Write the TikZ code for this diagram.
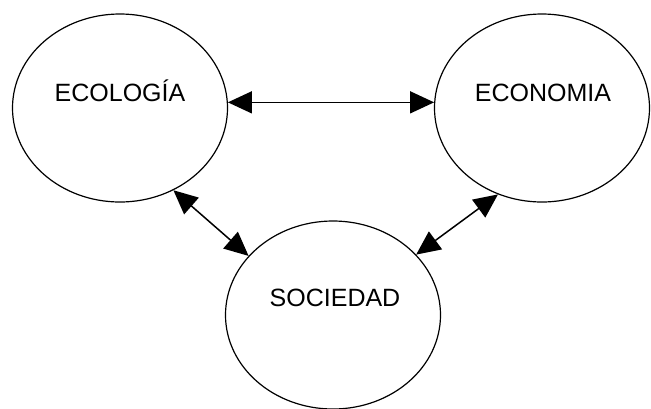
\documentclass[tikz,border=0pt]{standalone}
\usepackage{fontspec}
\setmainfont{Liberation Sans}
\usetikzlibrary{arrows.meta,shapes.geometric}

\begin{document}
\begin{tikzpicture}[
  x=1pt, y=-1pt,
  field/.style={draw, ellipse, line width=1.2pt, minimum width=215pt, minimum height=188pt, inner sep=0pt},
  fieldtext/.style={anchor=base, inner sep=0pt, font=\fontsize{25}{30}\selectfont},
  link/.style={line width=1.5pt, {Triangle[length=24pt,width=22pt]}-{Triangle[length=24pt,width=22pt]}}
]
  \useasboundingbox (0,0) rectangle (651,408);

  \node[field] (eco) at (120,108) {};
  \node[field] (econ) at (542,108) {};
  \node[field] (soc) at (333,315) {};

  \node[fieldtext] (ecotext) at (120,101) {ECOLOGÍA};
  \node[fieldtext] (econtext) at (543,101) {ECONOMIA};
  \node[fieldtext] (soctext) at (335,306.5) {SOCIEDAD};

  \draw[link] (eco.3) -- (econ.177);
  \draw[link] (eco.-57) -- (soc.145);
  \draw[link] (econ.-117) -- (soc.36);
\end{tikzpicture}
\end{document}
